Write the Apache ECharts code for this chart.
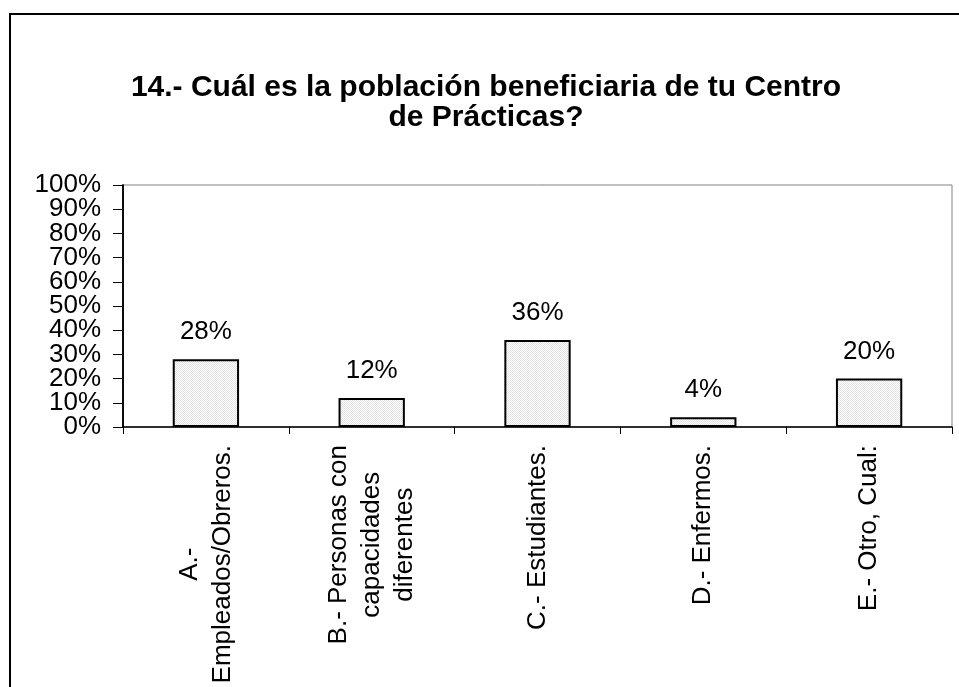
<!DOCTYPE html>
<html>
<head>
<meta charset="utf-8">
<script src="https://cdn.jsdelivr.net/npm/echarts@6/dist/echarts.min.js"></script>
<style>
  html, body { margin: 0; padding: 0; background: #fff; }
  #chart { width: 959px; height: 687px; }
</style>
</head>
<body>
<div id="chart"></div>
<script>
const titleText = '14.- Cuál es la población beneficiaria de tu Centro\nde Prácticas?';
const categories = [
  'A.-\nEmpleados/Obreros.',
  'B.- Personas con\ncapacidades\ndiferentes',
  'C.- Estudiantes.',
  'D.- Enfermos.',
  'E.- Otro, Cual:'
];
const values = [28, 12, 36, 4, 20];
const yMin = 0, yMax = 100, yStep = 10;

// dotted light-gray fill pattern
const pat = document.createElement('canvas');
pat.width = 2; pat.height = 2;
const pctx = pat.getContext('2d');
pctx.fillStyle = '#ffffff'; pctx.fillRect(0, 0, 2, 2);
pctx.fillStyle = '#e2e2e2'; pctx.fillRect(0, 0, 1, 1); pctx.fillRect(1, 1, 1, 1);

const font = 'Liberation Sans, Arial, sans-serif';
const yLabelStyle = { margin: 22, color: '#000', fontFamily: font, fontSize: 26, hideOverlap: false };
const chart = echarts.init(document.getElementById('chart'), null, { renderer: 'canvas' });
chart.setOption({
  backgroundColor: '#fff',
  animation: false,
  title: {
    text: titleText,
    left: 481,
    textAlign: 'center',
    top: 68,
    textStyle: { fontFamily: font, fontSize: 30, fontWeight: 'bold', color: '#000', lineHeight: 30 }
  },
  graphic: [{
    type: 'rect',
    shape: { x: 10, y: 14, width: 1200, height: 1200 },
    style: { fill: 'none', stroke: '#000', lineWidth: 2 },
    silent: true
  }],
  grid: {
    left: 123, top: 185, right: 7, bottom: 260,
    show: true, borderColor: '#808080', borderWidth: 1, backgroundColor: 'transparent'
  },
  xAxis: {
    type: 'category',
    data: categories,
    axisLine: { lineStyle: { color: '#000', width: 1.5 } },
    axisTick: { show: true, length: 7, alignWithLabel: false, lineStyle: { color: '#000' } },
    axisLabel: {
      interval: 0,
      rotate: 90,
      margin: 18,
      color: '#000',
      fontFamily: font,
      fontSize: 26,
      lineHeight: 33,
      formatter: function (v) {
        return v.split('\n').map(function (l) { return '{c|' + l + '}'; }).join('\n');
      },
      rich: { c: { align: 'center', fontFamily: font, fontSize: 26, lineHeight: 33, color: '#000' } }
    }
  },
  yAxis: [{
    type: 'value',
    position: 'left',
    min: yMin, max: yMax, interval: yStep * 2,
    axisLine: { show: true, lineStyle: { color: '#000', width: 1.5 } },
    axisTick: { show: true, length: 10, lineStyle: { color: '#000' } },
    splitLine: { show: false },
    axisLabel: Object.assign({ formatter: '{value}%' }, yLabelStyle)
  }, {
    type: 'value',
    position: 'left',
    offset: 0,
    min: yMin, max: yMax, interval: yStep,
    axisLine: { show: true, lineStyle: { color: '#000', width: 1.5 } },
    axisTick: { show: true, length: 10, lineStyle: { color: '#000' } },
    splitLine: { show: false },
    axisLabel: Object.assign({
      formatter: function (v) { return (v % (yStep * 2) !== 0) ? v + '%' : ''; }
    }, yLabelStyle)
  }],
  series: [{
    type: 'bar',
    yAxisIndex: 0,
    data: values,
    barWidth: '40%',
    itemStyle: {
      color: { image: pat, repeat: 'repeat' },
      borderColor: '#000',
      borderWidth: 2
    },
    label: {
      show: true,
      position: 'top',
      distance: 14,
      formatter: '{c}%',
      color: '#000',
      fontFamily: font,
      fontSize: 26
    }
  }]
});
</script>
</body>
</html>
